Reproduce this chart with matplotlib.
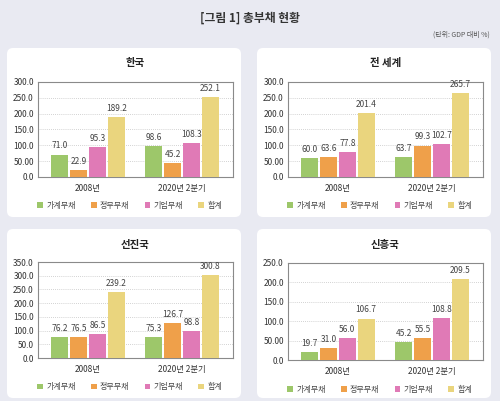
import matplotlib
matplotlib.use("Agg")
import matplotlib.pyplot as plt
from matplotlib.patches import FancyBboxPatch, Patch
from matplotlib.transforms import IdentityTransform
import numpy as np

plt.rcParams['font.family'] = ['Noto Sans CJK KR', 'DejaVu Sans']

title = "[그림 1] 총부채 현황"
unit = "(단위: GDP 대비 %)"
groups = ["2008년", "2020년 2분기"]
series = ["가계부채", "정부부채", "기업부채", "합계"]
colors = ["#9dc76a", "#efa04a", "#e07ab6", "#ead57e"]

panel_titles = ["한국", "전 세계", "선진국", "신흥국"]
korea = [[71.0, 98.6], [22.9, 45.2], [95.3, 108.3], [189.2, 252.1]]
world = [[60.0, 63.7], [63.6, 99.3], [77.8, 102.7], [201.4, 265.7]]
advanced = [[76.2, 75.3], [76.5, 126.7], [86.5, 98.8], [239.2, 300.8]]
emerging = [[19.7, 45.2], [31.0, 55.5], [56.0, 108.8], [106.7, 209.5]]
panel_data = [korea, world, advanced, emerging]

ticks_korea = [0, 50, 100, 150, 200, 250, 300]
ticks_world = [0, 50, 100, 150, 200, 250, 300]
ticks_adv = [0, 50, 100, 150, 200, 250, 300, 350]
ticks_emg = [0, 50, 100, 150, 200, 250]
labels_korea = ["0.0", "50.00", "100.0", "150.0", "200.0", "250.0", "300.0"]
labels_world = ["0.0", "50.00", "100.0", "150.0", "200.0", "250.0", "300.0"]
labels_adv = ["0.0", "50.0", "100.0", "150.0", "200.0", "250.0", "300.0", "350.0"]
labels_emg = ["0.0", "50.00", "100.0", "150.0", "200.0", "250.0"]
panel_ticks = [ticks_korea, ticks_world, ticks_adv, ticks_emg]
panel_labels = [labels_korea, labels_world, labels_adv, labels_emg]

W, H = 500, 401
fig = plt.figure(figsize=(W / 100, H / 100), dpi=100)
fig.patch.set_facecolor("#e9eaf2")


def fr(x0, y0, x1, y1):
    return [x0 / W, 1 - y1 / H, (x1 - x0) / W, (y1 - y0) / H]


# panel boxes (pixel coords, top-left origin)
boxes = [(7, 48, 241, 217), (257, 48, 491, 217), (7, 229, 241, 398), (257, 229, 491, 398)]
for (x0, y0, x1, y1) in boxes:
    p = FancyBboxPatch((x0, H - y1), x1 - x0, y1 - y0,
                       boxstyle="round,pad=0,rounding_size=6",
                       transform=IdentityTransform(), facecolor="white",
                       edgecolor="none", zorder=-5)
    fig.patches.append(p)

fig.text(0.5, 1 - 18 / H, title, ha="center", va="center", fontsize=8.5, fontweight="bold", color="#333333")
fig.text(490 / W, 1 - 35 / H, unit, ha="right", va="center", fontsize=5, color="#555555")

axes_pos = [(38, 82, 233, 177), (288, 82, 483, 177), (38, 262, 233, 358), (288, 263, 483, 360)]
title_y = [63, 63, 245, 245]

x = np.arange(len(groups))
bw = 0.18
step = 0.2
for i, (pos, pt, data, tks, tls) in enumerate(zip(axes_pos, panel_titles, panel_data, panel_ticks, panel_labels)):
    ax = fig.add_axes(fr(*pos))
    ax.set_zorder(1)
    ax.set_facecolor("white")
    for k, (name, vals) in enumerate(zip(series, data)):
        off = (k - 1.5) * step
        bars = ax.bar(x + off, vals, bw, color=colors[k], label=name, zorder=3)
        ax.bar_label(bars, labels=[f"{v:.1f}" for v in vals], padding=3, fontsize=6, color="#444444")
    ax.set_xlim(-0.53, 1.54)
    ax.set_ylim(0, tks[-1])
    ax.set_yticks(tks)
    ax.set_yticklabels(tls, fontsize=6, color="#333333")
    ax.set_xticks(x)
    ax.set_xticklabels(groups, fontsize=6, color="#333333")
    ax.tick_params(axis="y", length=0, pad=3)
    ax.tick_params(axis="x", length=0, pad=5)
    ax.grid(axis="y", linestyle=(0, (1, 1.5)), color="#c4c4c4", linewidth=0.6, zorder=0)
    for s in ax.spines.values():
        s.set_color("#8a8a8a")
        s.set_linewidth(0.8)
    cx = (pos[0] + pos[2]) / 2
    fig.text(cx / W, 1 - title_y[i] / H, pt, ha="center", va="center", fontsize=7.5, fontweight="bold", color="#222222")
    handles = [Patch(facecolor=c, edgecolor="none") for c in colors]
    leg = ax.legend(handles, series, loc="center", bbox_to_anchor=(0.47, -0.3), ncol=4,
                    frameon=False, fontsize=5.8, handlelength=0.7, handleheight=0.7,
                    handletextpad=0.4, columnspacing=1.9)
    for t in leg.get_texts():
        t.set_color("#444444")

fig.savefig("out.png", dpi=100, facecolor=fig.get_facecolor())
